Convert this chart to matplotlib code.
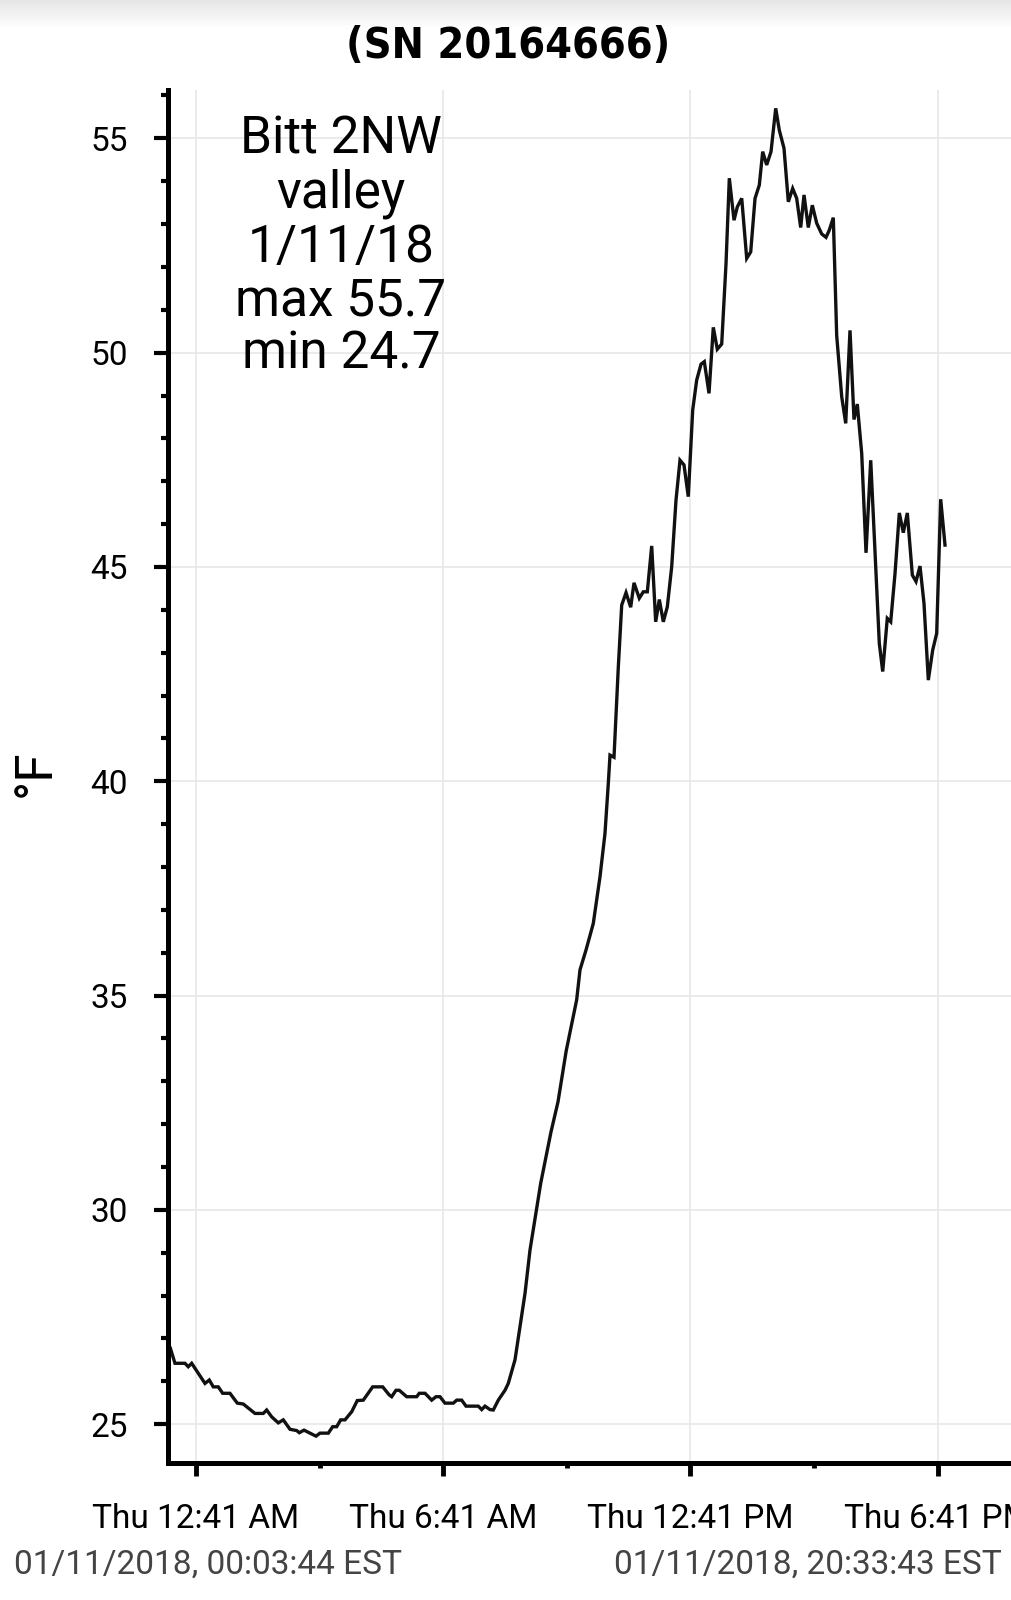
import numpy as np
import matplotlib
matplotlib.use('Agg')
import matplotlib.pyplot as plt
from matplotlib.ticker import FixedLocator, MultipleLocator

# logger readings, clock hours on 01/11/2018 and temperature in F
hours = [0.062, 0.173, 0.416, 0.496, 0.579, 0.902, 1.006, 1.103, 1.225, 1.331,
         1.508, 1.686, 1.831, 2.115, 2.317, 2.399, 2.521, 2.681, 2.802, 2.965,
         3.128, 3.191, 3.305, 3.450, 3.596, 3.693, 3.895, 4.001, 4.098, 4.195,
         4.300, 4.463, 4.598, 4.744, 4.972, 5.215, 5.375, 5.433, 5.538, 5.618,
         5.797, 6.040, 6.103, 6.242, 6.404, 6.508, 6.605, 6.727, 6.929, 7.011,
         7.132, 7.237, 7.535, 7.618, 7.698, 7.819, 7.899, 8.021, 8.183, 8.263,
         8.426, 8.547, 8.669, 8.790, 9.050, 9.298, 9.470, 9.669, 9.923, 10.004,
         10.149, 10.326, 10.489, 10.610, 10.691, 10.732, 10.829, 10.934, 11.016, 11.121,
         11.234, 11.315, 11.443, 11.540, 11.638, 11.744, 11.841, 11.929, 12.026, 12.123,
         12.229, 12.334, 12.431, 12.528, 12.632, 12.690, 12.739, 12.836, 12.941, 13.021,
         13.135, 13.239, 13.336, 13.443, 13.548, 13.628, 13.742, 13.822, 13.929, 14.050,
         14.147, 14.252, 14.356, 14.438, 14.535, 14.640, 14.754, 14.841, 14.955, 15.060,
         15.166, 15.263, 15.360, 15.441, 15.545, 15.642, 15.749, 15.870, 15.975, 16.055,
         16.152, 16.234, 16.356, 16.453, 16.557, 16.654, 16.734, 16.841, 16.946, 17.060,
         17.140, 17.268, 17.351, 17.462, 17.545, 17.650, 17.754, 17.851, 17.948, 18.070,
         18.159, 18.256, 18.353, 18.458, 18.564, 18.661, 18.758, 18.863]
temps = [26.77, 26.42, 26.42, 26.34, 26.42, 25.95, 26.03, 25.87, 25.87, 25.72,
         25.72, 25.49, 25.47, 25.25, 25.25, 25.33, 25.17, 25.03, 25.10, 24.88,
         24.85, 24.80, 24.86, 24.79, 24.72, 24.79, 24.79, 24.94, 24.94, 25.10,
         25.10, 25.29, 25.55, 25.56, 25.87, 25.87, 25.68, 25.64, 25.79, 25.79,
         25.64, 25.64, 25.72, 25.72, 25.56, 25.64, 25.64, 25.49, 25.49, 25.56,
         25.56, 25.42, 25.42, 25.34, 25.42, 25.34, 25.33, 25.56, 25.79, 25.95,
         26.50, 27.27, 28.05, 29.06, 30.62, 31.81, 32.52, 33.71, 34.90, 35.60,
         36.06, 36.68, 37.77, 38.78, 39.95, 40.61, 40.56, 42.67, 44.11, 44.40,
         44.06, 44.63, 44.27, 44.42, 44.42, 45.49, 43.72, 44.24, 43.72, 44.07,
         45.00, 46.56, 47.49, 47.38, 46.64, 47.75, 48.66, 49.36, 49.73, 49.79,
         49.05, 50.59, 50.08, 50.20, 52.08, 54.07, 53.09, 53.40, 53.60, 52.20,
         52.35, 53.60, 53.91, 54.69, 54.38, 54.69, 55.70, 55.19, 54.77, 53.52,
         53.83, 53.60, 52.92, 53.68, 52.92, 53.44, 53.02, 52.77, 52.69, 52.86,
         53.15, 50.40, 48.97, 48.35, 50.52, 48.44, 48.80, 47.65, 45.33, 47.49,
         45.86, 43.22, 42.56, 43.80, 43.72, 44.85, 46.26, 45.80, 46.26, 44.81,
         44.66, 45.02, 44.15, 42.36, 43.06, 43.45, 46.58, 45.51]

xtick_hours = [0.6833, 6.6833, 12.6833, 18.6833]
xtick_labels = ['Thu 12:41 AM', 'Thu 6:41 AM', 'Thu 12:41 PM', 'Thu 6:41 PM']
xminor_hours = [3.6833, 9.6833, 15.6833]
start_hour = 0.0622   # 00:03:44
end_hour = 20.5619    # 20:33:43

title = '(SN 20164666)'
note = 'Bitt 2NW\nvalley\n1/11/18\nmax 55.7\nmin 24.7'
start_txt = '01/11/2018, 00:03:44 EST'
end_txt = '01/11/2018, 20:33:43 EST'

plt.rcParams['font.family'] = ['Roboto', 'DejaVu Sans']

fig = plt.figure(figsize=(10.11, 16.0), dpi=100)

# faint shadow strip along the top edge
shade = fig.add_axes([0, 0.982, 1, 0.018])
shade.imshow(np.linspace(0.90, 1.0, 50).reshape(-1, 1), aspect='auto', cmap='gray',
             vmin=0, vmax=1, extent=[0, 1, 0, 1])
shade.axis('off')

ax = fig.add_axes([0.1665, 0.0858, 0.8395, 0.858])
ax.plot(hours, temps, color='#111111', lw=2.4, solid_joinstyle='miter')

ax.set_xlim(start_hour - 0.05, end_hour + 0.05)
ax.set_ylim(24.10, 56.13)

ax.xaxis.set_major_locator(FixedLocator(xtick_hours))
ax.xaxis.set_minor_locator(FixedLocator(xminor_hours))
ax.set_xticklabels(xtick_labels)
ax.yaxis.set_major_locator(MultipleLocator(5))
ax.yaxis.set_minor_locator(MultipleLocator(1))

for s in ['top', 'right']:
    ax.spines[s].set_visible(False)
for s in ['left', 'bottom']:
    ax.spines[s].set_linewidth(3.6)
    ax.spines[s].set_color('black')

ax.grid(True, which='major', color='#e6e6e6', lw=1.1)
ax.set_axisbelow(True)
ax.tick_params(axis='y', which='major', length=10, width=3, labelsize=24, pad=19)
ax.tick_params(axis='y', which='minor', length=5, width=3)
ax.tick_params(axis='x', which='major', length=9, width=3.5, labelsize=24, pad=20)
ax.tick_params(axis='x', which='minor', length=3.5, width=3.5)

fig.text(36 / 1011, 1 - 773 / 1600, '°F', rotation=90, fontsize=37,
         ha='center', va='center')

fig.text(508 / 1011, 1 - 46 / 1600, title, fontsize=31, fontweight='bold',
         family='DejaVu Sans', fontstretch='condensed', ha='center', va='center')

fig.text(341 / 1011, 1 - 115 / 1600, note, fontsize=37, ha='center', va='top',
         linespacing=1.09, multialignment='center')

fig.text(14 / 1011, 1 - 1565 / 1600, start_txt, fontsize=24, color='#444444',
         ha='left', va='center')
fig.text(1002 / 1011, 1 - 1565 / 1600, end_txt, fontsize=24, color='#444444',
         ha='right', va='center')

fig.savefig('out.png', dpi=100)
